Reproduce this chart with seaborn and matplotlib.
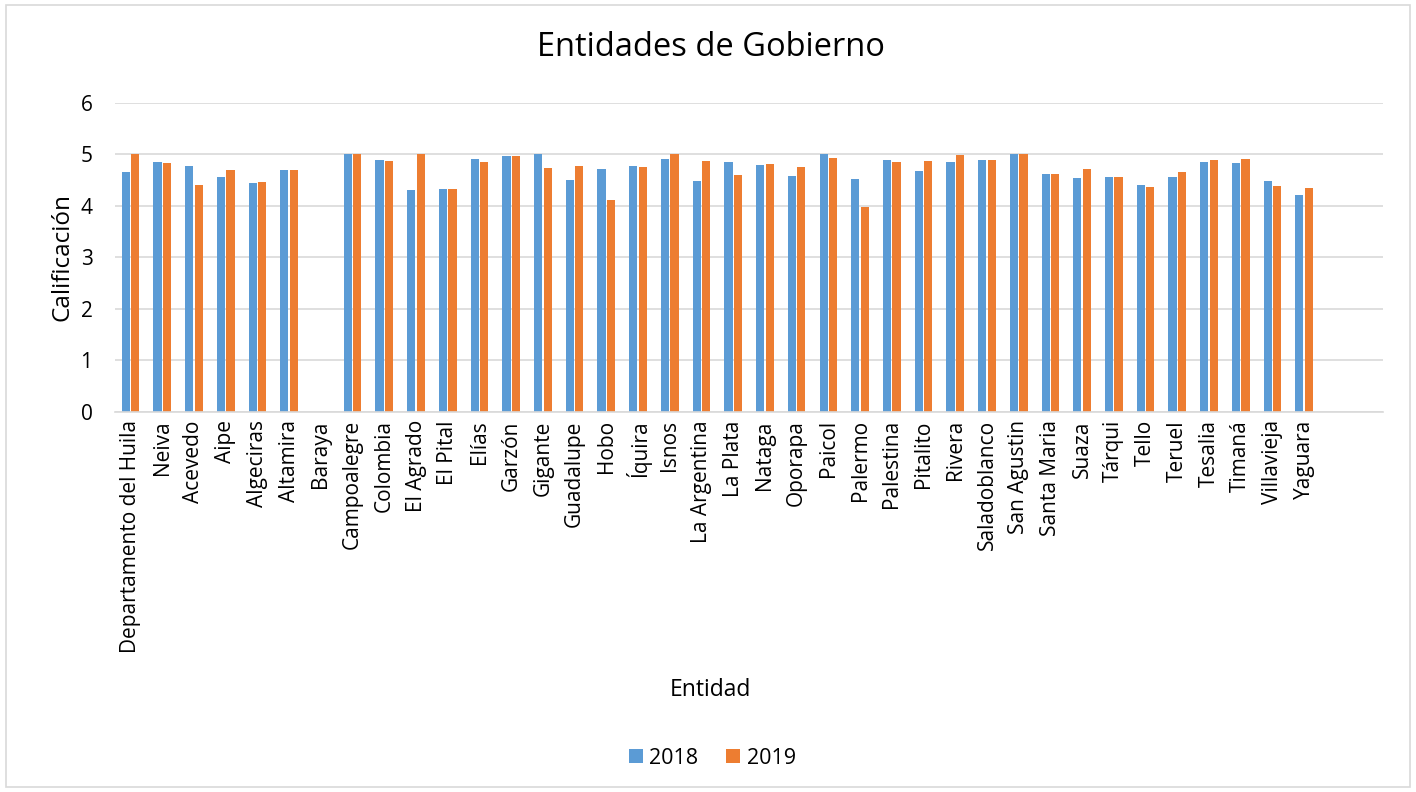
import numpy as np
import pandas as pd
import seaborn as sns
import matplotlib.pyplot as plt
from matplotlib.patches import Rectangle

# Data
entidades = [
    'Departamento del Huila', 'Neiva', 'Acevedo', 'Aipe', 'Algeciras', 'Altamira',
    'Baraya', 'Campoalegre', 'Colombia', 'El Agrado', 'El Pital', 'Elías', 'Garzón',
    'Gigante', 'Guadalupe', 'Hobo', 'Íquira', 'Isnos', 'La Argentina', 'La Plata',
    'Nataga', 'Oporapa', 'Paicol', 'Palermo', 'Palestina', 'Pitalito', 'Rivera',
    'Saladoblanco', 'San Agustin', 'Santa Maria', 'Suaza', 'Tárqui', 'Tello',
    'Teruel', 'Tesalia', 'Timaná', 'Villavieja', 'Yaguara', ' ', '  ',
]
nan = np.nan
cal_2018 = [
    4.65, 4.86, 4.77, 4.57, 4.45, 4.70, nan, 5.00, 4.90, 4.31, 4.32, 4.92, 4.96,
    5.00, 4.50, 4.72, 4.77, 4.92, 4.48, 4.85, 4.79, 4.59, 5.00, 4.53, 4.90, 4.67,
    4.86, 4.90, 5.00, 4.62, 4.55, 4.57, 4.41, 4.57, 4.85, 4.83, 4.48, 4.21, nan, nan,
]
cal_2019 = [
    5.00, 4.83, 4.41, 4.70, 4.47, 4.70, nan, 5.00, 4.88, 5.00, 4.32, 4.85, 4.96,
    4.73, 4.77, 4.11, 4.75, 5.00, 4.88, 4.61, 4.82, 4.75, 4.94, 3.98, 4.86, 4.88,
    4.98, 4.90, 5.00, 4.62, 4.72, 4.57, 4.37, 4.65, 4.90, 4.92, 4.39, 4.34, nan, nan,
]
years = ['2018', '2019']
colors = ['#5B9BD5', '#ED7D31']


def main():
    df = pd.DataFrame({
        'Entidad': entidades * 2,
        'Calificación': cal_2018 + cal_2019,
        'Año': [years[0]] * len(entidades) + [years[1]] * len(entidades),
    })

    sns.set_style('white')
    plt.rcParams['font.family'] = ['Open Sans', 'DejaVu Sans']
    plt.rcParams['text.color'] = 'black'
    plt.rcParams['axes.labelcolor'] = 'black'

    fig = plt.figure(figsize=(14.16, 7.92), dpi=100)
    ax = fig.add_axes([0.081, 0.48, 0.896, 0.39])

    sns.barplot(data=df, x='Entidad', y='Calificación', hue='Año',
                order=entidades, hue_order=years, palette=colors, saturation=1,
                width=0.6, gap=0.14, linewidth=0, ax=ax, legend=True)

    ax.set_xlim(-0.5, len(entidades) - 0.5)
    ax.set_ylim(0, 6)
    ax.set_yticks(range(0, 7))
    ax.yaxis.grid(True, color='#d9d9d9', linewidth=1.2)
    ax.set_axisbelow(True)
    for s in ['top', 'right', 'left']:
        ax.spines[s].set_visible(False)
    ax.spines['bottom'].set_color('#d9d9d9')
    ax.spines['bottom'].set_linewidth(1.2)
    ax.tick_params(axis='x', length=0, labelsize=15, colors='black', pad=6)
    ax.tick_params(axis='y', length=0, labelsize=15, colors='black', pad=16)
    plt.setp(ax.get_xticklabels(), rotation=90)

    fig.suptitle('Entidades de Gobierno', fontsize=23.5, x=0.502, y=0.94, va='center')
    ax.set_ylabel('Calificación', fontsize=17.5, labelpad=4)
    ax.set_xlabel('')
    fig.text(0.502, 1 - 690 / 792, 'Entidad', fontsize=16.5, ha='center', va='center')

    handles, labels = ax.get_legend_handles_labels()
    ax.legend_.remove()
    fig.legend(handles, labels, loc='center', bbox_to_anchor=(0.503, 1 - 758 / 792),
               ncol=2, frameon=False, fontsize=15.5, handlelength=0.65,
               handleheight=0.65, handletextpad=0.3, columnspacing=1.3)

    fig.patches.append(Rectangle((0.004, 0.006), 0.992, 0.988, transform=fig.transFigure,
                                 fill=False, edgecolor='#d9d9d9', linewidth=1.2))
    fig.savefig('out.png', dpi=100)


if __name__ == "__main__":
    main()
